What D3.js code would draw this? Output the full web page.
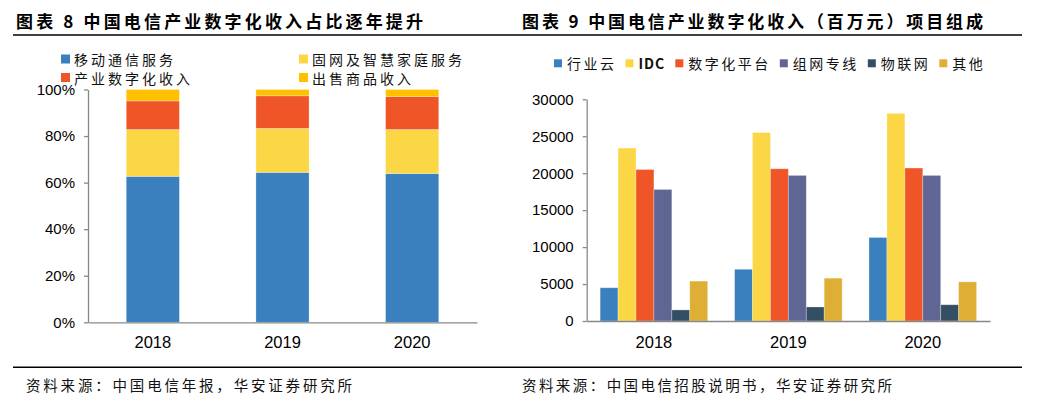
<!DOCTYPE html>
<html><head><meta charset="utf-8">
<script src="https://cdn.jsdelivr.net/npm/d3@7/dist/d3.min.js"></script>
<style>
body{margin:0;background:#fff;}
svg{display:block;}
.tick text{font-family:"Liberation Sans",Arial,sans-serif;font-size:15px;fill:#000;}
.xax .tick text{font-size:16.5px;}
.cjk{font-family:"Noto Sans CJK SC",sans-serif;}
</style></head>
<body>
<svg id="c" width="1051" height="407"></svg>
<script>
// ---- data ----
const years = ["2018","2019","2020"];
const shareSeries = ["移动通信服务","固网及智慧家庭服务","产业数字化收入","出售商品收入"];
const shareMobile = [62.7, 64.4, 63.9];
const shareFixed = [20.1, 18.9, 18.9];
const shareDigital = [12.3, 14.0, 14.2];
const shareSales = [4.9, 2.7, 3.0];
const shareTicks = [0,20,40,60,80,100];

const digSeries = ["行业云","IDC","数字化平台","组网专线","物联网","其他"];
const digCloud = [4500, 7000, 11300];
const digIDC = [23400, 25500, 28100];
const digPlatform = [20500, 20600, 20700];
const digLine = [17800, 19700, 19700];
const digIoT = [1500, 1900, 2200];
const digOther = [5400, 5800, 5300];
const digTicks = [0,5000,10000,15000,20000,25000,30000];

const title1 = "图表 8 中国电信产业数字化收入占比逐年提升";
const title2 = "图表 9 中国电信产业数字化收入（百万元）项目组成";
const source1 = "资料来源：中国电信年报，华安证券研究所";
const source2 = "资料来源：中国电信招股说明书，华安证券研究所";

const shareColors = ["#3A80BE","#FCD745","#F05528","#FFC000"];
const digColors = ["#3A80BE","#FCD745","#F05528","#5F6693","#344E63","#DFAE34"];
const axisColor = "#888";

const svg = d3.select("#c");

// ---- titles & rules ----
svg.append("text").attr("class","cjk").attr("x",16).attr("y",20.8)
  .attr("dominant-baseline","central").attr("font-size",17).attr("font-weight","bold")
  .attr("textLength",407).attr("lengthAdjust","spacing").text(title1);
svg.append("text").attr("class","cjk").attr("x",522).attr("y",20.8)
  .attr("dominant-baseline","central").attr("font-size",17).attr("font-weight","bold")
  .attr("textLength",461).attr("lengthAdjust","spacing").text(title2);
svg.append("line").attr("x1",13).attr("x2",1022).attr("y1",35).attr("y2",35)
  .attr("stroke","#000").attr("stroke-width",1.5);
svg.append("line").attr("x1",13).attr("x2",1022).attr("y1",367.3).attr("y2",367.3)
  .attr("stroke","#000").attr("stroke-width",1.5);
svg.append("text").attr("class","cjk").attr("x",26).attr("y",384)
  .attr("dominant-baseline","central").attr("font-size",14.5).attr("fill","#111")
  .attr("textLength",326).attr("lengthAdjust","spacing").text(source1);
svg.append("text").attr("class","cjk").attr("x",522).attr("y",384)
  .attr("dominant-baseline","central").attr("font-size",14.5).attr("fill","#111")
  .attr("textLength",370).attr("lengthAdjust","spacing").text(source2);

// ---- left chart: 100% stacked ----
const L = {x0:88, x1:477, y0:322.3, y1:89.5};
const xL = d3.scaleBand().domain(years).range([L.x0,L.x1]).paddingInner(0.59).paddingOuter(0.295);
const yL = d3.scaleLinear().domain([0,100]).range([L.y0,L.y1]);
const shareRows = years.map((y,i)=>({year:y,
  [shareSeries[0]]:shareMobile[i],[shareSeries[1]]:shareFixed[i],
  [shareSeries[2]]:shareDigital[i],[shareSeries[3]]:shareSales[i]}));
const stack = d3.stack().keys(shareSeries)(shareRows);
const gL = svg.append("g");
gL.selectAll("g.s").data(stack).join("g").attr("fill",(d,i)=>shareColors[i])
  .selectAll("rect").data(d=>d).join("rect")
  .attr("x",d=>xL(d.data.year)).attr("width",xL.bandwidth())
  .attr("y",d=>yL(d[1])).attr("height",d=>yL(d[0])-yL(d[1]))
  .attr("stroke","rgba(255,255,255,0.35)").attr("stroke-width",0.8);

const yAxL = svg.append("g").attr("transform",`translate(${L.x0},0)`)
  .call(d3.axisLeft(yL).tickValues(shareTicks).tickFormat(d=>d+"%").tickSize(4).tickSizeOuter(0).tickPadding(9));
const xAxL = svg.append("g").attr("class","xax").attr("transform",`translate(0,${L.y0})`)
  .call(d3.axisBottom(xL).tickSize(0).tickSizeOuter(0).tickPadding(14));
[yAxL,xAxL].forEach(a=>{a.select(".domain").attr("stroke",axisColor).attr("stroke-width",1.3);
  a.selectAll(".tick line").attr("stroke",axisColor).attr("stroke-width",1.3);});

// left legend (2 columns x 2 rows)
const legL = svg.append("g");
const legLcols = [61, 299], legLrows = [59, 77.5];
shareSeries.forEach((s,i)=>{
  const cx = legLcols[i%2], cy = legLrows[Math.floor(i/2)];
  legL.append("rect").attr("x",cx).attr("y",cy-4.5).attr("width",9).attr("height",9).attr("fill",shareColors[i]);
  legL.append("text").attr("class","cjk").attr("x",cx+13).attr("y",cy)
    .attr("dominant-baseline","central").attr("font-size",14).attr("letter-spacing","3px")
    .attr("fill","#111").text(s);
});

// ---- right chart: grouped bars ----
const R = {x0:586.7, x1:990, y0:321, y1:99.3};
const x0R = d3.scaleBand().domain(years).range([R.x0,R.x1]).paddingInner(0.2).paddingOuter(0.1);
const x1R = d3.scaleBand().domain(digSeries).range([0,x0R.bandwidth()]).padding(0);
const yR = d3.scaleLinear().domain([0,30000]).range([R.y0,R.y1]);
const digArrays = [digCloud,digIDC,digPlatform,digLine,digIoT,digOther];
const digRows = years.map((y,i)=>({year:y, vals:digSeries.map((s,j)=>({s, j, v:digArrays[j][i]}))}));
const gR = svg.append("g");
gR.selectAll("g.grp").data(digRows).join("g")
  .attr("transform",d=>`translate(${x0R(d.year)},0)`)
  .selectAll("rect").data(d=>d.vals).join("rect")
  .attr("x",d=>x1R(d.s)).attr("width",x1R.bandwidth())
  .attr("y",d=>yR(d.v)).attr("height",d=>yR(0)-yR(d.v))
  .attr("fill",d=>digColors[d.j])
  .attr("stroke","rgba(255,255,255,0.35)").attr("stroke-width",0.8);

const yAxR = svg.append("g").attr("transform",`translate(${R.x0},0)`)
  .call(d3.axisLeft(yR).tickValues(digTicks).tickFormat(d3.format("d")).tickSize(4).tickSizeOuter(0).tickPadding(9));
const xAxR = svg.append("g").attr("class","xax").attr("transform",`translate(0,${R.y0})`)
  .call(d3.axisBottom(x0R).tickSize(0).tickSizeOuter(0).tickPadding(15));
[yAxR,xAxR].forEach(a=>{a.select(".domain").attr("stroke",axisColor).attr("stroke-width",1.3);
  a.selectAll(".tick line").attr("stroke",axisColor).attr("stroke-width",1.3);});

// right legend (single row, laid out sequentially)
const legR = svg.append("g");
let lx = 554; const ly = 63.3;
digSeries.forEach((s,i)=>{
  legR.append("rect").attr("x",lx).attr("y",ly-4).attr("width",8).attr("height",8).attr("fill",digColors[i]);
  const ascii = /^[\x00-\x7F]+$/.test(s);
  const t = legR.append("text").attr("class","cjk").attr("x",lx+13).attr("y",ly)
    .attr("dominant-baseline","central").attr("font-size",14)
    .attr("font-weight",ascii?"bold":"normal")
    .attr("letter-spacing",ascii?"1px":"2.5px")
    .attr("fill","#111").text(s);
  lx = lx + 13 + t.node().getComputedTextLength() + (ascii?10:9);
});
</script>
</body></html>
